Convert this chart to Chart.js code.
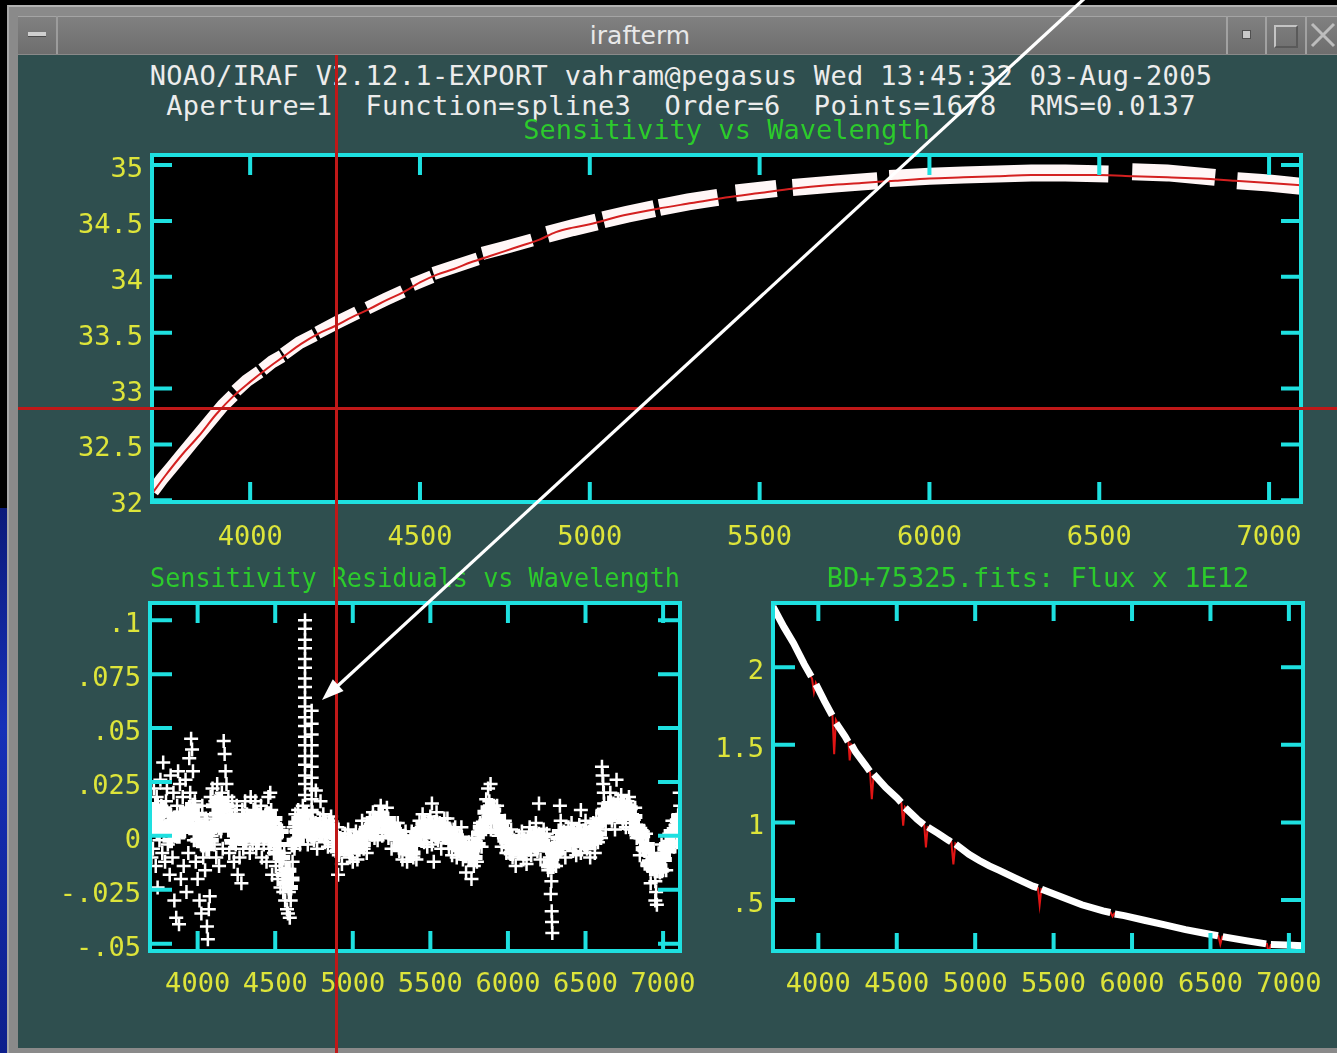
<!DOCTYPE html>
<html>
<head>
<meta charset="utf-8">
<title>irafterm</title>
<script src="https://cdn.jsdelivr.net/npm/chart.js@4.4.1/dist/chart.umd.min.js"></script>
<style>
  html, body { margin: 0; padding: 0; background: #000; overflow: hidden; }
  #screen { position: relative; width: 1337px; height: 1053px; background: #000; overflow: hidden; }
  #screen > * { position: absolute; }
  #desk { left: 0; top: 508px; width: 8px; height: 545px; background: linear-gradient(180deg, #0b1a7a, #1630b8 40%, #0d1f8c); }
  #frame { left: 7px; top: 5px; width: 1330px; height: 1048px; background: #8a8a8a; border-top: 2px solid #b2b2b2; border-left: 2px solid #a8a8a8; box-sizing: border-box; }
  #titlebar { left: 18px; top: 16px; width: 1319px; height: 38px; background: linear-gradient(180deg, #808080, #6e6e6e); border-top: 1px solid #a4a4a4; box-sizing: border-box; }
  #lbtn { left: 18px; top: 16px; width: 40px; height: 38px; border-right: 2px solid #9c9c9c; box-sizing: border-box; }
  #dash { left: 28px; top: 32px; width: 18px; height: 4px; background: #cfcfcf; border-bottom: 1px solid #4a4a4a; }
  .sep { top: 16px; width: 2px; height: 38px; background: #a2a2a2; }
  #b1 { left: 1242px; top: 30px; width: 7px; height: 7px; background: #c9c9c9; border: 1px solid #505050; }
  #b2 { left: 1274px; top: 25px; width: 20px; height: 19px; border: 2px solid #c4c4c4; border-right-color: #5a5a5a; border-bottom-color: #5a5a5a; }
  #wtitle { left: 540px; top: 18px; width: 200px; text-align: center; font: 25px 'DejaVu Sans', sans-serif; color: #e8e8e8; line-height: 36px; }
  #term { left: 18px; top: 55px; width: 1319px; height: 993px; background: #2f4f4f; }
  .head { left: 0; width: 1362px; text-align: center; white-space: pre; font: 27px 'DejaVu Sans Mono', monospace; letter-spacing: 0.35px; color: #ececec; line-height: 30px; }
  canvas { position: absolute; }
  #vline { left: 335px; top: 55px; width: 3px; height: 998px; background: #c01818; }
  #hline { left: 18px; top: 407px; width: 1319px; height: 3px; background: #c01818; }
</style>
</head>
<body>
<div id="screen">
  <div id="desk"></div>
  <div id="frame"></div>
  <div id="titlebar"></div>
  <div id="lbtn"></div>
  <div id="dash"></div>
  <div class="sep" style="left:1226px"></div>
  <div class="sep" style="left:1265px"></div>
  <div class="sep" style="left:1305px"></div>
  <div id="b1"></div>
  <div id="b2"></div>
  <svg style="left:1308px;top:20px" width="29" height="30"><path d="M4 4 L26 26 M26 4 L4 26" stroke="#bdbdbd" stroke-width="3" fill="none"/></svg>
  <div id="wtitle">irafterm</div>
  <div id="term"></div>
  <div class="head" style="top:61px">NOAO/IRAF V2.12.1-EXPORT vahram@pegasus Wed 13:45:32 03-Aug-2005</div>
  <div class="head" style="top:91px">Aperture=1  Function=spline3  Order=6  Points=1678  RMS=0.0137</div>
  <canvas id="sens" width="1337" height="446" style="left:0;top:116px"></canvas>
  <canvas id="resid" width="710" height="457" style="left:0;top:564px"></canvas>
  <canvas id="flux" width="643" height="457" style="left:690px;top:564px"></canvas>
  <div id="vline"></div>
  <div id="hline"></div>
  <svg style="left:0;top:0" width="1337" height="1053">
    <line x1="1085" y1="-2" x2="330" y2="693" stroke="#fff" stroke-width="3.2"/>
    <polygon points="322,700 343.6,691 332.8,679.2" fill="#fff"/>
  </svg>
</div>

<script>
// tick positions and labels
const waveTicks = [4000, 4500, 5000, 5500, 6000, 6500, 7000];
const sensTicks = [32, 32.5, 33, 33.5, 34, 34.5, 35];
const sensTickLabels = ['32', '32.5', '33', '33.5', '34', '34.5', '35'];
const resTicks = [-0.05, -0.025, 0, 0.025, 0.05, 0.075, 0.1];
const resTickLabels = ['-.05', '-.025', '0', '.025', '.05', '.075', '.1'];
const fluxTicks = [0.5, 1, 1.5, 2];
const fluxTickLabels = ['.5', '1', '1.5', '2'];

// sensitivity fit (spline3, order 6)
const fitWave = [3711, 3750, 3800, 3850, 3900, 3950, 4000, 4050, 4100, 4150, 4200, 4250, 4300, 4350, 4400, 4450,
  4500, 4550, 4600, 4650, 4700, 4750, 4800, 4850, 4900, 4950, 5000, 5100, 5200, 5300, 5400, 5500,
  5600, 5700, 5800, 5900, 6000, 6100, 6200, 6300, 6400, 6500, 6600, 6700, 6800, 6900, 7000, 7094];
const fitVal = [32.06, 32.22, 32.41, 32.58, 32.77, 32.93, 33.06, 33.18, 33.29, 33.40, 33.49, 33.56, 33.64, 33.71, 33.79, 33.86,
  33.95, 34.02, 34.07, 34.13, 34.18, 34.23, 34.28, 34.33, 34.40, 34.44, 34.47, 34.55, 34.61, 34.66, 34.71, 34.75,
  34.79, 34.82, 34.84, 34.86, 34.88, 34.89, 34.90, 34.91, 34.91, 34.91, 34.90, 34.89, 34.88, 34.86, 34.84, 34.82];

// sensitivity points (bandpasses), null = gap between bands
const sensWave = [3713, 3740, 3770, 3800, 3830, 3860, 3890, 3920, 3950, 3954,
  3958, 3990, 4028, 4032, 4036, 4065, 4094, 4096, 4099, 4145, 4190, 4194,
  4198, 4255, 4315, 4330, 4345, 4400, 4450, 4464, 4478, 4535, 4537,
  4540, 4600, 4670, 4677, 4684, 4760, 4830, 4850, 4875, 4950, 5020, 5030,
  5040, 5110, 5190, 5198, 5205, 5290, 5377, 5400, 5430, 5490, 5550, 5570,
  5597, 5720, 5847, 5865, 5882, 6000, 6100, 6200, 6300, 6400, 6527, 6560,
  6597, 6700, 6841, 6870, 6906, 7000, 7094];
const sensVal = [32.08, 32.19, 32.30, 32.41, 32.52, 32.63, 32.74, 32.85, 32.94, null,
  32.98, 33.07, 33.15, null, 33.17, 33.24, 33.29, null, 33.31, 33.41, 33.48, null,
  33.50, 33.59, 33.68, null, 33.72, 33.80, 33.87, null, 33.93, 34.00, null,
  34.03, 34.09, 34.16, null, 34.21, 34.27, 34.33, null, 34.38, 34.44, 34.49, null,
  34.51, 34.56, 34.61, null, 34.62, 34.67, 34.71, null, 34.75, 34.77, 34.79, null,
  34.80, 34.83, 34.86, null, 34.88, 34.90, 34.91, 34.92, 34.93, 34.93, 34.92, null,
  34.94, 34.93, 34.89, null, 34.86, 34.84, 34.81];

// residuals: scattered points
const resWave = [3698, 3702, 3706, 3712, 3718, 3724, 3730, 3736, 3742, 3748, 3754, 3760, 3766, 3772, 3778, 3784,
  3790, 3796, 3802, 3808, 3814, 3820, 3826, 3832, 3838, 3844, 3850, 3856, 3862, 3868, 3874, 3880,
  3886, 3892, 3898, 3904, 3910, 3916, 3922, 3928, 3934, 3940, 3946, 3952, 3958, 3964, 3970, 3976,
  3982, 3988, 3994, 4000, 4006, 4012, 4018, 4024, 4030, 4036, 4042, 4048, 4054, 4060, 4066, 4072,
  4078, 4084, 4090, 4096, 4102, 4108, 4114, 4120, 4126, 4132, 4138, 4144, 4150, 4156, 4162, 4168,
  4174, 4180, 4186, 4192, 4198, 4204, 4210, 4216, 4222, 4228, 4234, 4240, 4246, 4252, 4258, 4264,
  4270, 4276, 4282, 4288, 4294, 4300, 4306, 4312, 4318, 4324, 4330, 4336, 4342, 4348, 4354, 4360,
  4366, 4372, 4378, 4384, 4390, 4396, 4402, 4408, 4414, 4420, 4426, 4432, 4438, 4444, 4450, 4456,
  4462, 4468, 4474, 4480, 4486, 4492, 4498, 4504, 4510, 4516, 4522, 4528, 4534, 4540, 4546, 4552,
  4558, 4564, 4570, 4576, 4582, 4588, 4594, 4600, 4606, 4612, 4618, 4624, 4630, 4636, 4642, 4648,
  4654, 4660, 4666, 4672, 4678, 4684, 4690, 4696,
  4692, 4692, 4692, 4692, 4692, 4692, 4692, 4692, 4692, 4692, 4692, 4692, 4692, 4692, 4692, 4692, 4692, 4692, 4692,
  4735, 4735, 4735, 4735, 4735, 4735, 4735, 4735, 4735, 4735,
  4700, 4710, 4720, 4730, 4740, 4750, 4760, 4770, 4780, 4790, 4800, 4810, 4820, 4830, 4840, 4850,
  4860, 4870, 4880, 4890, 4900, 4910, 4920, 4930, 4940, 4950, 4960, 4970, 4980, 4990, 5000, 5010,
  5020, 5030, 5040, 5050, 5060, 5070, 5080, 5090, 5100, 5110, 5120, 5130, 5140, 5150, 5160, 5170,
  5180, 5190, 5200, 5210, 5220, 5230, 5240, 5250, 5260, 5270, 5280, 5290, 5300, 5310, 5320, 5330,
  5340, 5350, 5360, 5370, 5380, 5390, 5400, 5410, 5420, 5430, 5440, 5450, 5460, 5470, 5480, 5490,
  5500, 5510, 5520, 5530, 5540, 5550, 5560, 5570, 5580, 5590, 5600, 5610, 5620, 5630, 5640, 5650,
  5660, 5670, 5680, 5690, 5700, 5710, 5720, 5730, 5740, 5750, 5760, 5770, 5780, 5790, 5800, 5810,
  5820, 5830, 5840, 5850, 5860, 5870, 5880, 5890, 5900, 5910, 5920, 5930, 5940, 5950, 5960, 5970,
  5980, 5990, 6000, 6010, 6020, 6030, 6040, 6050, 6060, 6070, 6080, 6090, 6100, 6110, 6120, 6130,
  6140, 6150, 6160, 6170, 6180, 6190, 6200, 6210, 6220, 6230, 6240, 6250, 6260, 6270, 6280, 6290,
  6300, 6310, 6320, 6330, 6340, 6350, 6360, 6370, 6380, 6390, 6400, 6410, 6420, 6430, 6440, 6450,
  6460, 6470, 6480, 6490, 6500, 6510, 6520, 6530, 6540, 6550, 6560, 6570, 6580, 6590, 6600, 6610,
  6620, 6630, 6640, 6650, 6660, 6670, 6680, 6690, 6700, 6710, 6720, 6730, 6740, 6750, 6760, 6770,
  6780, 6790, 6800, 6810, 6820, 6830, 6840, 6850, 6860, 6870, 6880, 6890, 6900, 6910, 6920, 6930,
  6940, 6950, 6960, 6970, 6980, 6990, 7000, 7010, 7020, 7030, 7040, 7050, 7060, 7070, 7080, 7090,
  7100, 7110,
  4762, 4792, 4905, 5510, 5522, 5765, 5872, 5888, 6200, 6276, 6282, 6284, 6286, 6335, 6470, 6606,
  6610, 6614, 6618, 6700, 6950, 6955, 6960, 7104, 7107];
const resVal = [.006, -.010, .012, -.006, .022, .004, -.014, .018, -.024, .008, -.002, .026, .014, -.008, .034, .002,
  -.012, .016, .022, -.004, .010, -.018, .028, .006, -.010, .020, -.030, .000, -.038, .014, .030, -.041,
  .024, -.020, .008, .018, -.014, .004, .026, -.026, .012, -.008, .036, .020, .045, .040, .030, -.002,
  .016, -.012, .006, -.020, .010, -.030, .002, -.036, .014, -.010, .004, -.016, .008, -.042, -.048, -.034,
  -.028, .018, .000, .022, .010, -.004, .016, -.010, .024, .006, -.014, .014, .002, .020, -.006, .044,
  .038, .030, .024, .008, .018, -.008, .012, -.002, .016, .004, -.012, .010, -.004, .014, -.018, .006,
  -.010, .002, -.022, .012, -.006, .008, .016, -.002, .010, .000, .006, -.008, .018, .004, -.004, .012,
  .002, .016, -.006, .008, -.002, .010, .000, .014, -.010, .006, -.004, .002, .010, -.012, .004, .018,
  -.006, .020, .012, -.018, .000, -.008, .006, -.014, -.004, -.020, .004, -.012, -.024, .002, -.016, -.026,
  -.008, -.030, -.018, -.034, -.036, -.026, -.038, -.030, -.020, -.012, .004, -.006, .010, .002, -.002, .012,
  .006, -.004, .008, .000, .014, .004, .010, .002,
  .100, .096, .091, .087, .082, .078, .073, .069, .064, .060, .055, .051, .046, .042, .037, .033, .028, .024, .019,
  .058, .052, .047, .042, .037, .032, .027, .022, .017, .012,
  .009, -.004, .004, .000, .011, -.002, .006, -.006, .003, .008, .001, .010, -.003, .005, -.005, .007,
  .009, -.004, .000, -.007, .004, -.009, -.001, -.013, -.004, .001, -.006, .003, -.010, -.002, -.012, .000,
  .002, -.011, -.003, -.005, .007, -.006, .003, -.008, .002, .008, .001, .011, -.001, .008, -.002, .011,
  .014, .000, .007, .003, .013, -.001, .006, -.006, .002, .006, -.002, .006, -.007, .000, -.011, .000,
  .002, -.012, -.005, -.009, .002, -.010, -.001, -.011, .000, .007, .001, .010, -.003, .005, -.005, .007,
  .009, -.004, .004, .000, .011, -.002, .006, -.006, .003, .008, -.001, .008, -.006, .002, -.009, .003,
  .004, -.010, -.002, -.007, .004, -.011, -.004, -.017, -.008, -.003, -.010, -.001, -.014, -.004, -.012, .002,
  .006, -.005, .006, .004, .017, .006, .016, .003, .010, .014, .006, .014, .000, .006, -.005, .006,
  .007, -.008, -.001, -.008, .003, -.010, -.002, -.014, -.005, .000, -.007, .002, -.011, -.003, -.013, -.001,
  .004, -.009, -.001, -.005, .006, -.007, .001, -.011, -.002, .003, -.004, .001, -.016, -.010, -.021, -.008,
  -.004, -.014, -.003, -.004, .007, -.006, .002, -.010, -.001, .004, -.003, .006, -.007, .001, -.009, .003,
  .005, -.008, .000, -.004, .007, -.006, .002, -.010, .004, .006, -.008, .008, -.003, .007, -.001, .012,
  .015, .003, .012, .009, .020, .007, .015, .003, .012, .017, .010, .019, .006, .014, .004, .016,
  .018, .003, .010, .004, .013, -.001, .005, -.009, -.001, .002, -.007, .001, -.014, -.012, -.022, -.010,
  -.008, -.021, -.013, -.011, -.017, -.004, -.016, -.006, -.016, -.006, .001, -.004, .007, -.005, .005, -.003,
  .010, .014,
  .021, .016, -.018, .015, -.012, -.020, .022, .024, .015, -.027, -.035, -.040, -.045, .014, .012, .032,
  .028, .024, .020, .026, -.030, -.026, -.032, .025, .020];

// residuals: the dense core of the band
const coreWave = [3705, 3715, 3725, 3735, 3745, 3755, 3765, 3775, 3785, 3795, 3805, 3815, 3825, 3835, 3845, 3855,
  3865, 3875, 3885, 3895, 3905, 3915, 3925, 3935, 3945, 3955, 3965, 3975, 3985, 3995, 4005, 4015,
  4025, 4035, 4045, 4055, 4065, 4075, 4085, 4095, 4105, 4115, 4125, 4135, 4145, 4155, 4165, 4175,
  4185, 4195, 4205, 4215, 4225, 4235, 4245, 4255, 4265, 4275, 4285, 4295, 4305, 4315, 4325, 4335,
  4345, 4355, 4365, 4375, 4385, 4395, 4405, 4415, 4425, 4435, 4445, 4455, 4465, 4475, 4485, 4495,
  4505, 4515, 4525, 4535, 4545, 4555, 4565, 4575, 4585, 4595, 4605, 4615, 4625, 4635, 4645, 4655,
  4665, 4675, 4685, 4695,
  4705, 4715, 4725, 4735, 4745, 4755, 4765, 4775, 4785, 4795, 4805, 4815, 4825, 4835, 4845, 4855,
  4865, 4875, 4885, 4895, 4905, 4915, 4925, 4935, 4945, 4955, 4965, 4975, 4985, 4995, 5005, 5015,
  5025, 5035, 5045, 5055, 5065, 5075, 5085, 5095, 5105, 5115, 5125, 5135, 5145, 5155, 5165, 5175,
  5185, 5195, 5205, 5215, 5225, 5235, 5245, 5255, 5265, 5275, 5285, 5295, 5305, 5315, 5325, 5335,
  5345, 5355, 5365, 5375, 5385, 5395, 5405, 5415, 5425, 5435, 5445, 5455, 5465, 5475, 5485, 5495,
  5505, 5515, 5525, 5535, 5545, 5555, 5565, 5575, 5585, 5595, 5605, 5615, 5625, 5635, 5645, 5655,
  5665, 5675, 5685, 5695, 5705, 5715, 5725, 5735, 5745, 5755, 5765, 5775, 5785, 5795, 5805, 5815,
  5825, 5835, 5845, 5855, 5865, 5875, 5885, 5895, 5905, 5915, 5925, 5935, 5945, 5955, 5965, 5975,
  5985, 5995, 6005, 6015, 6025, 6035, 6045, 6055, 6065, 6075, 6085, 6095, 6105, 6115, 6125, 6135,
  6145, 6155, 6165, 6175, 6185, 6195, 6205, 6215, 6225, 6235, 6245, 6255, 6265, 6275, 6285, 6295,
  6305, 6315, 6325, 6335, 6345, 6355, 6365, 6375, 6385, 6395, 6405, 6415, 6425, 6435, 6445, 6455,
  6465, 6475, 6485, 6495, 6505, 6515, 6525, 6535, 6545, 6555, 6565, 6575, 6585, 6595, 6605, 6615,
  6625, 6635, 6645, 6655, 6665, 6675, 6685, 6695, 6705, 6715, 6725, 6735, 6745, 6755, 6765, 6775,
  6785, 6795, 6805, 6815, 6825, 6835, 6845, 6855, 6865, 6875, 6885, 6895, 6905, 6915, 6925, 6935,
  6945, 6955, 6965, 6975, 6985, 6995, 7005, 7015, 7025, 7035, 7045, 7055, 7065, 7075, 7085, 7095,
  7105];
const coreVal = [.012, .004, .008, .014, .002, .010, .006, .012, .012, .004, .004, .010, -.002, .006, .002, .008,
  .008, .000, .004, .010, .002, .010, .006, .012, .012, .004, .008, .014, .002, .010, -.002, .004,
  .004, -.004, .000, .006, -.006, .002, -.002, .004, .014, .006, .010, .016, .004, .012, .008, .014,
  .014, .006, .003, .009, -.003, .005, .001, .007, .007, -.001, .003, .009, -.002, .006, .002, .008,
  .008, .000, .004, .010, -.002, .006, .002, .008, .008, .000, .004, .010, -.002, .006, .002, .008,
  .000, -.008, -.004, .002, -.010, -.018, -.022, -.016, -.016, -.024, -.020, -.004, -.002, .006, .002, .008,
  .008, .000, .004, .010,
  .005, .001, .003, .006, .000, .004, .002, .005, .005, .001, .003, .006, .000, .004, .002, .005,
  .005, .001, .000, -.001, -.007, -.003, -.005, -.002, -.002, -.006, -.004, -.001, -.007, -.003, -.005, -.002,
  -.002, -.006, -.003, .001, -.004, .001, .000, .003, .004, .001, .004, .008, .002, .007, .006, .010,
  .010, .005, .006, .008, .002, .005, .002, .004, .003, -.001, .000, .002, -.005, -.002, -.004, -.002,
  -.003, -.008, -.006, -.003, -.008, -.004, -.004, .001, .003, .001, .003, .006, .000, .004, .002, .005,
  .005, .001, .003, .006, .000, .004, .002, .005, .005, .001, .001, .003, -.003, .000, -.002, .000,
  .000, -.005, -.003, -.001, -.008, -.006, -.009, -.006, -.006, -.010, -.008, -.005, -.010, -.004, -.004, .001,
  .004, .002, .006, .011, .007, .013, .011, .013, .012, .007, .007, .009, .002, .005, .001, .003,
  .002, -.003, -.005, -.002, -.008, -.004, -.006, -.003, -.003, -.007, -.005, -.002, -.008, -.004, -.006, -.003,
  .000, -.004, -.002, .001, -.005, -.001, -.003, .000, .000, -.004, -.004, -.005, -.014, -.012, -.014, -.009,
  -.007, -.008, -.001, .002, -.004, .000, -.002, .001, .001, -.003, -.001, .002, -.004, .000, -.002, .001,
  .001, -.003, -.001, .002, -.004, .000, -.002, .001, .001, -.003, -.001, .005, .001, .007, .007, .011,
  .012, .009, .012, .015, .009, .013, .011, .014, .014, .010, .012, .015, .009, .013, .011, .014,
  .013, .008, .008, .009, .002, .004, .000, .002, .000, -.006, -.006, -.004, -.013, -.012, -.015, -.012,
  -.012, -.016, -.014, -.011, -.016, -.011, -.011, -.006, -.004, -.007, -.003, .002, -.003, .003, .003, .007,
  .009];

// standard star flux (bandpass points), null = gap at absorption lines
const fluxWave = [3711, 3780, 3842, 3910, 3955, 3972, 3985, 4040, 4088, 4101, 4114, 4170, 4190, 4200, 4212, 4237,
  4300, 4328, 4341, 4354, 4430, 4500, 4528, 4541, 4554, 4631, 4673, 4686, 4699, 4763, 4830, 4846,
  4861, 4876, 4960, 5026, 5090, 5157, 5260, 5368, 5398, 5411, 5424, 5552, 5680, 5815, 5862, 5876,
  5890, 5950, 6078, 6210, 6341, 6470, 6548, 6563, 6578, 6604, 6735, 6855, 6870, 6885, 6980, 7090];
const fluxVal = [2.39, 2.26, 2.155, 2.02, 1.94, null, 1.89, 1.78, 1.69, null, 1.64, 1.555, 1.52, null, 1.50, 1.455,
  1.37, 1.33, null, 1.31, 1.225, 1.16, 1.13, null, 1.095, 1.02, 0.985, null, 0.97, 0.93, 0.885, 0.875,
  null, 0.86, 0.795, 0.755, 0.72, 0.69, 0.64, 0.59, 0.58, null, 0.57, 0.52, 0.47, 0.43, 0.42, null,
  0.41, 0.40, 0.37, 0.34, 0.31, 0.285, 0.27, null, 0.265, 0.26, 0.237, 0.218, null, 0.214, 0.21, 0.205];

// observed spectrum with its absorption lines
const specWave = [3711, 3842, 3960, 3972, 3984, 4040, 4090, 4101, 4112, 4170, 4192, 4200, 4210, 4300, 4330, 4341,
  4352, 4430, 4530, 4541, 4552, 4631, 4675, 4686, 4697, 4763, 4848, 4861, 4874, 4960, 5157, 5368,
  5400, 5411, 5422, 5552, 5680, 5864, 5876, 5888, 6078, 6341, 6550, 6563, 6576, 6735, 6860, 6870,
  6885, 6980, 7090];
const specVal = [2.39, 2.155, 1.925, 1.84, 1.90, 1.78, 1.69, 1.44, 1.66, 1.555, 1.52, 1.40, 1.50, 1.37, 1.32, 1.15,
  1.30, 1.225, 1.125, 0.98, 1.10, 1.02, 0.985, 0.84, 0.97, 0.93, 0.875, 0.73, 0.865, 0.795, 0.69, 0.59,
  0.58, 0.47, 0.57, 0.52, 0.47, 0.42, 0.395, 0.415, 0.37, 0.31, 0.27, 0.215, 0.265, 0.237, 0.218, 0.16,
  0.21, 0.21, 0.205];

const CYAN = '#1ee0e0';
const YELLOW = '#dde43a';
const GREEN = '#2ccb2c';

Chart.defaults.font.family = "'DejaVu Sans Mono', 'Liberation Mono', monospace";
Chart.defaults.font.size = 27;
Chart.defaults.animation = false;
Chart.defaults.events = [];
Chart.defaults.plugins.legend.display = false;
Chart.defaults.plugins.tooltip.enabled = false;

const pts = (xs, ys) => xs.map((x, i) => ({ x: x, y: ys[i] }));

// black plot area, cyan box and IRAF-style inward ticks on all four sides
const irafBox = {
  id: 'irafBox',
  beforeDraw(chart) {
    const { ctx, chartArea: a } = chart;
    ctx.save();
    ctx.fillStyle = '#000';
    ctx.fillRect(a.left, a.top, a.right - a.left, a.bottom - a.top);
    ctx.restore();
  },
  afterDatasetsDraw(chart, args, opts) {
    const { ctx, chartArea: a, scales } = chart;
    ctx.save();
    ctx.strokeStyle = CYAN;
    ctx.lineWidth = 4;
    ctx.beginPath();
    scales.x.ticks.forEach(t => {
      const px = scales.x.getPixelForValue(t.value);
      ctx.moveTo(px, a.bottom); ctx.lineTo(px, a.bottom - opts.xLen);
      ctx.moveTo(px, a.top); ctx.lineTo(px, a.top + opts.xLen);
    });
    scales.y.ticks.forEach(t => {
      const py = scales.y.getPixelForValue(t.value);
      ctx.moveTo(a.left, py); ctx.lineTo(a.left + opts.yLen, py);
      ctx.moveTo(a.right, py); ctx.lineTo(a.right - opts.yLen, py);
    });
    ctx.stroke();
    ctx.strokeRect(a.left, a.top, a.right - a.left, a.bottom - a.top);
    ctx.restore();
  }
};

function waveAxis(min, max, tickLen, height) {
  return {
    type: 'linear', min: min, max: max,
    afterBuildTicks: s => { s.ticks = waveTicks.map(v => ({ value: v })); },
    afterFit: s => { s.height = height; },
    grid: { drawOnChartArea: false, drawTicks: true, tickLength: tickLen, color: 'rgba(0,0,0,0)' },
    border: { display: false },
    ticks: { color: YELLOW, padding: 2, maxRotation: 0, minRotation: 0, autoSkip: false, callback: v => String(v) }
  };
}

function valueAxis(min, max, ticks, labels, width) {
  return {
    type: 'linear', min: min, max: max,
    afterBuildTicks: s => { s.ticks = ticks.map(v => ({ value: v })); },
    afterFit: s => { s.width = width; },
    grid: { drawOnChartArea: false, drawTicks: false },
    border: { display: false },
    ticks: { color: YELLOW, padding: 9, labelOffset: 5, autoSkip: false, callback: (v, i) => labels[i] }
  };
}

function plotTitle(text) {
  return { display: true, text: text, color: GREEN, fullSize: false,
    font: { size: 27, weight: 'normal' }, padding: { top: 0, bottom: 6.6 } };
}

// bands look thicker toward the red end, so draw them in two parts
const sensPts = pts(sensWave, sensVal);

new Chart(document.getElementById('sens'), {
  type: 'line',
  data: {
    datasets: [
      { data: pts(fitWave, fitVal), borderColor: '#d42020', borderWidth: 2, pointRadius: 0,
        cubicInterpolationMode: 'monotone', order: 0, clip: 0 },
      { data: sensPts.slice(0, 40), borderColor: '#fff6f6', borderWidth: 13, pointRadius: 0,
        spanGaps: false, order: 1, clip: 0 },
      { data: sensPts.slice(41), borderColor: '#fff6f6', borderWidth: 17, pointRadius: 0,
        spanGaps: false, order: 1, clip: 0 }
    ]
  },
  options: {
    responsive: false,
    layout: { padding: { left: 0, right: 36, top: 0, bottom: 0 } },
    scales: { x: waveAxis(3711, 7094, 18, 60), y: valueAxis(31.985, 35.09, sensTicks, sensTickLabels, 152) },
    plugins: { title: plotTitle('Sensitivity vs Wavelength'), irafBox: { xLen: 20, yLen: 20 } }
  },
  plugins: [irafBox]
});

const crossStyle = { pointStyle: 'cross', pointRadius: 7, pointBorderWidth: 2.5,
  pointBorderColor: '#ffffff', pointBackgroundColor: '#ffffff', clip: 0 };

new Chart(document.getElementById('resid'), {
  type: 'scatter',
  data: {
    datasets: [
      Object.assign({ data: pts(resWave, resVal) }, crossStyle),
      Object.assign({ data: pts(coreWave, coreVal) }, crossStyle, { pointRadius: 8, pointBorderWidth: 5 })
    ]
  },
  options: {
    responsive: false,
    layout: { padding: { left: 0, right: 30, top: 0, bottom: 0 } },
    scales: { x: waveAxis(3693, 7109, 16, 70), y: valueAxis(-0.0534, 0.108, resTicks, resTickLabels, 150) },
    plugins: { title: plotTitle('Sensitivity Residuals vs Wavelength'), irafBox: { xLen: 20, yLen: 22 } }
  },
  plugins: [irafBox]
});

new Chart(document.getElementById('flux'), {
  type: 'line',
  data: {
    datasets: [
      { data: pts(fluxWave, fluxVal), borderColor: '#ffffff', borderWidth: 7, pointRadius: 0,
        spanGaps: false, order: 0, clip: 0 },
      { data: pts(specWave, specVal), borderColor: '#e01414', borderWidth: 2, pointRadius: 0, order: 1, clip: 0 }
    ]
  },
  options: {
    responsive: false,
    layout: { padding: { left: 0, right: 30, top: 0, bottom: 0 } },
    scales: { x: waveAxis(3711, 7090, 16, 70), y: valueAxis(0.172, 2.414, fluxTicks, fluxTickLabels, 83) },
    plugins: { title: plotTitle('BD+75325.fits: Flux x 1E12'), irafBox: { xLen: 18, yLen: 22 } }
  },
  plugins: [irafBox]
});
</script>
</body>
</html>
